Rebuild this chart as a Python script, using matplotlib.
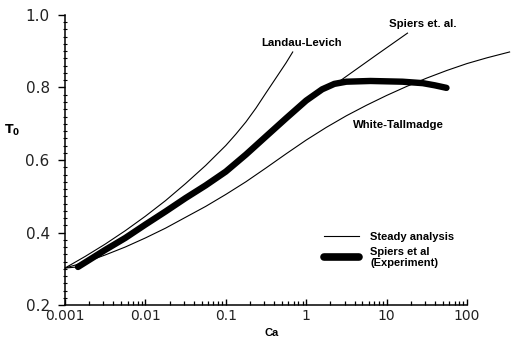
import matplotlib
matplotlib.use("Agg")
import matplotlib.pyplot as plt
from matplotlib.lines import Line2D

# Landau-Levich theory (Ca, T0)
ll_ca = [0.001, 0.00178, 0.00316, 0.00562, 0.01, 0.0178, 0.0316, 0.0562, 0.1, 0.133, 0.178,
         0.237, 0.316, 0.42, 0.562, 0.68]
ll_t = [0.302, 0.334, 0.368, 0.405, 0.445, 0.488, 0.535, 0.585, 0.640, 0.671, 0.705,
        0.743, 0.785, 0.826, 0.868, 0.898]

# White-Tallmadge theory
wt_ca = [0.001, 0.00178, 0.00316, 0.00562, 0.01, 0.0178, 0.0316, 0.0562, 0.1, 0.178, 0.316,
         0.562, 1.0, 1.78, 3.16, 5.62, 10.0, 17.8, 31.6, 56.2, 100.0, 178.0, 339.0]
wt_t = [0.302, 0.318, 0.338, 0.360, 0.385, 0.412, 0.442, 0.472, 0.505, 0.540, 0.578,
        0.617, 0.655, 0.690, 0.722, 0.751, 0.778, 0.803, 0.826, 0.847, 0.866, 0.882, 0.898]

# Spiers et al. theory
sp_ca = [0.001, 0.00145, 0.00316, 0.00562, 0.01, 0.0178, 0.0316, 0.0562, 0.1, 0.178, 0.316,
         0.562, 1.0, 1.58, 2.51, 7.5, 18.2]
sp_t = [0.302, 0.305, 0.352, 0.385, 0.422, 0.458, 0.495, 0.530, 0.568, 0.615, 0.665,
        0.715, 0.764, 0.795, 0.815, 0.890, 0.950]

# Spiers et al. experiment
ex_ca = [0.00145, 0.00316, 0.00562, 0.01, 0.0178, 0.0316, 0.0562, 0.1, 0.178, 0.316, 0.562,
         1.0, 1.58, 2.24, 3.16, 6.3, 15.8, 28.2, 39.8, 55.6]
ex_t = [0.305, 0.352, 0.385, 0.422, 0.458, 0.495, 0.530, 0.568, 0.615, 0.665, 0.715,
        0.764, 0.795, 0.810, 0.816, 0.818, 0.816, 0.812, 0.806, 0.799]

xticks = [0.001, 0.01, 0.1, 1, 10, 100]
xticklabels = ["0.001", "0.01", "0.1", "1", "10", "100"]
yticks = [0.2, 0.4, 0.6, 0.8, 1.0]
yticklabels = ["0.2", "0.4", "0.6", "0.8", "1.0"]

fig = plt.figure(figsize=(5.14, 3.4), dpi=100)
ax = fig.add_axes([0.1265, 0.1029, 0.782, 0.853])

lw_thin = 0.8
ax.plot(ll_ca, ll_t, color="black", lw=lw_thin)
ax.plot(wt_ca, wt_t, color="black", lw=lw_thin, clip_on=False)
ax.plot(sp_ca, sp_t, color="black", lw=lw_thin)
ax.plot(ex_ca, ex_t, color="black", lw=4.6, solid_capstyle="round", solid_joinstyle="round")

ax.set_xscale("log")
ax.set_xlim(0.001, 100)
ax.set_ylim(0.2, 1.0)
ax.spines["top"].set_visible(False)
ax.spines["right"].set_visible(False)
for s in ("left", "bottom"):
    ax.spines[s].set_linewidth(1.1)

ax.set_xticks(xticks)
ax.set_xticklabels(xticklabels)
ax.set_yticks(yticks)
ax.set_yticklabels(yticklabels)
ax.set_yticks([0.2 + 0.02 * i for i in range(41)], minor=True)

ax.tick_params(axis="x", which="major", direction="in", length=4, width=1, labelsize=10, pad=3, labelcolor="#222222")
ax.tick_params(axis="x", which="minor", direction="in", length=3, width=0.9)
ax.tick_params(axis="y", which="major", direction="out", length=5, width=1, labelsize=11, pad=6, labelcolor="#222222")
ax.tick_params(axis="y", which="minor", direction="inout", length=3, width=0.8)

ax.set_xlabel("Ca", fontsize=8, fontweight="bold", family="Liberation Sans")
ax.xaxis.set_label_coords(0.515, -0.079)
ax.set_ylabel(r"$\mathbf{T_0}$", fontsize=9, rotation=0, va="center")
ax.yaxis.set_label_coords(-0.132, 0.603)

afont = dict(fontsize=8.2, fontweight="bold", family="Liberation Sans", color="black")
ax.annotate("Landau-Levich", xy=(302 / 514, 1 - 43 / 340), xycoords="figure fraction",
            ha="center", va="center", **afont)
ax.annotate("Spiers et. al.", xy=(423 / 514, 1 - 24 / 340), xycoords="figure fraction",
            ha="center", va="center", **afont)
ax.annotate("White-Tallmadge", xy=(398 / 514, 1 - 125 / 340), xycoords="figure fraction",
            ha="center", va="center", **afont)

handles = [
    Line2D([], [], color="black", lw=0.8),
    Line2D([], [], color="black", lw=5.5, solid_capstyle="round"),
]
leg = ax.legend(handles, ["Steady analysis", "Spiers et al\n(Experiment)"],
                loc="upper left", bbox_to_anchor=(318 / 514, 1 - 226 / 340),
                bbox_transform=fig.transFigure, frameon=False,
                prop=dict(family="Liberation Sans", weight="bold", size=8),
                handlelength=3.2, handletextpad=1.0, labelspacing=0.45, borderpad=0)

fig.savefig("out.png", dpi=100)
